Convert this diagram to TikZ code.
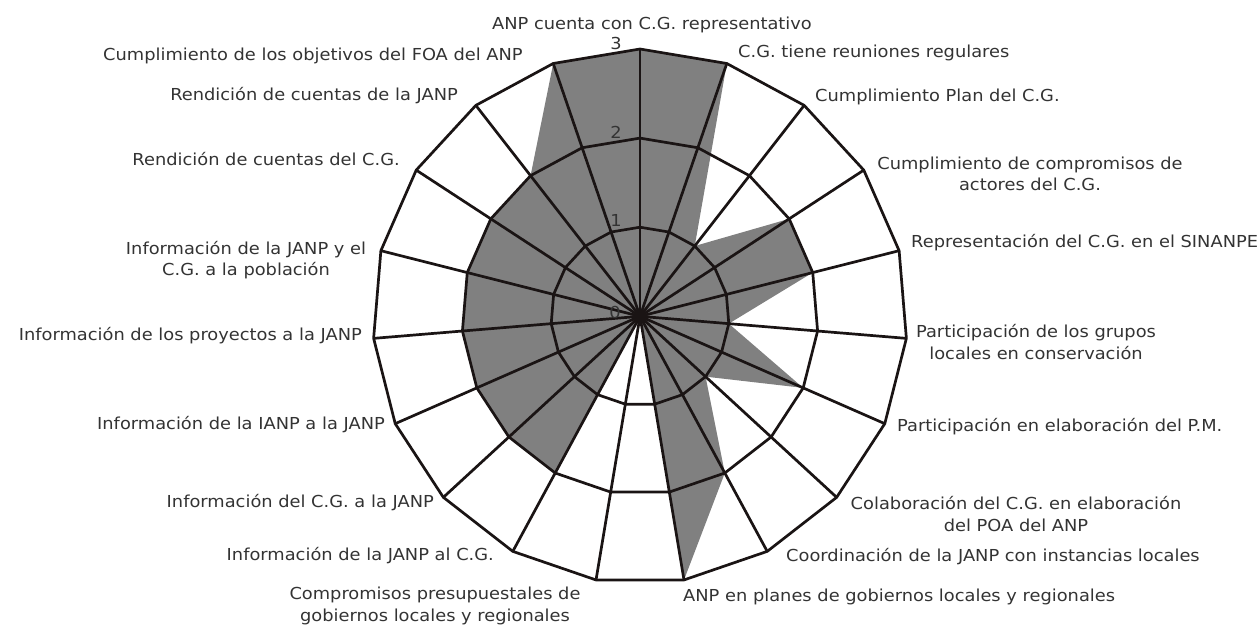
\documentclass[tikz,border=0pt]{standalone}
\usepackage{fontspec}
\setmainfont[FakeStretch=1.08]{DejaVu Sans}
\usetikzlibrary{calc}
\definecolor{txt}{HTML}{333333}
\definecolor{gridc}{HTML}{1A1414}
\definecolor{fillc}{HTML}{808080}
\begin{document}
\begin{tikzpicture}[x=1pt,y=-1pt,
  lab/.style={text=txt, font=\fontsize{16.5}{21.5}\selectfont, inner sep=0pt, align=center},
  gridline/.style={draw=gridc, line width=2.7pt, line join=miter},
  valfill/.style={fill=fillc}]
\useasboundingbox (0,0) rectangle (1260,624);
\coordinate (C) at (640,316.3);
% data points
\foreach \v [count=\i from 0] in {3,3,1,2,2,1,2,1,2,3,0,2,2,2,2,2,2,2,3}{
  \pgfmathsetmacro\rr{\v*89.1}
  \pgfmathsetmacro\aa{90-\i*360/19}
  \coordinate (p\i) at ($(C)+(\aa:\rr pt)$);
}
% ring vertices
\foreach \L in {1,2,3}{
  \foreach \k in {0,...,18}{
    \pgfmathsetmacro\rr{\L*89.1}
    \pgfmathsetmacro\aa{90-\k*360/19}
    \coordinate (r\L-\k) at ($(C)+(\aa:\rr pt)$);
  }
}
\fill[valfill] (p0) foreach \k in {1,...,18}{ -- (p\k) } -- cycle;
\foreach \L in {1,2,3}{
  \draw[gridline] (r\L-0) foreach \k in {1,...,18}{ -- (r\L-\k) } -- cycle;
}
\foreach \k in {0,...,18}{
  \draw[gridline] (C) -- (r3-\k);
}
% scale labels
\node[lab] (s3) at (616,43) {3};
\node[lab] (s2) at (616,132) {2};
\node[lab] (s1) at (616,220) {1};
\node[lab] (s0) at (615,312) {0};
% axis labels
\node[lab, anchor=mid] (l1) at (652,27) {ANP cuenta con C.G. representativo};
\node[lab, anchor=mid west] (l2) at (738,55) {C.G. tiene reuniones regulares};
\node[lab, anchor=mid west] (l3) at (815,99) {Cumplimiento Plan del C.G.};
\node[lab] (l4) at (1030,174) {Cumplimiento de compromisos de\\actores del C.G.};
\node[lab, anchor=mid west] (l5) at (911,245) {Representación del C.G. en el SINANPE};
\node[lab] (l6) at (1036,342) {Participación de los grupos\\locales en conservación};
\node[lab, anchor=mid west] (l7) at (897,429) {Participación en elaboración del P.M.};
\node[lab] (l8) at (1016,514) {Colaboración del C.G. en elaboración\\del POA del ANP};
\node[lab, anchor=mid west] (l9) at (786,559) {Coordinación de la JANP con instancias locales};
\node[lab, anchor=mid west] (l10) at (683,599) {ANP en planes de gobiernos locales y regionales};
\node[lab] (l11) at (435,606) {Compromisos presupuestales de\\gobiernos locales y regionales};
\node[lab, anchor=mid east] (l12) at (494,558) {Información de la JANP al C.G.};
\node[lab, anchor=mid east] (l13) at (434,505) {Información del C.G. a la JANP};
\node[lab, anchor=mid east] (l14) at (385,427) {Información de la IANP a la JANP};
\node[lab, anchor=mid east] (l15) at (362,338) {Información de los proyectos a la JANP};
\node[lab] (l16) at (246,260) {Información de la JANP y el\\C.G. a la población};
\node[lab, anchor=mid east] (l17) at (400,163) {Rendición de cuentas del C.G.};
\node[lab, anchor=mid east] (l18) at (458,98) {Rendición de cuentas de la JANP};
\node[lab, anchor=mid west] (l19) at (103,58) {Cumplimiento de los objetivos del FOA del ANP};
\end{tikzpicture}
\end{document}
